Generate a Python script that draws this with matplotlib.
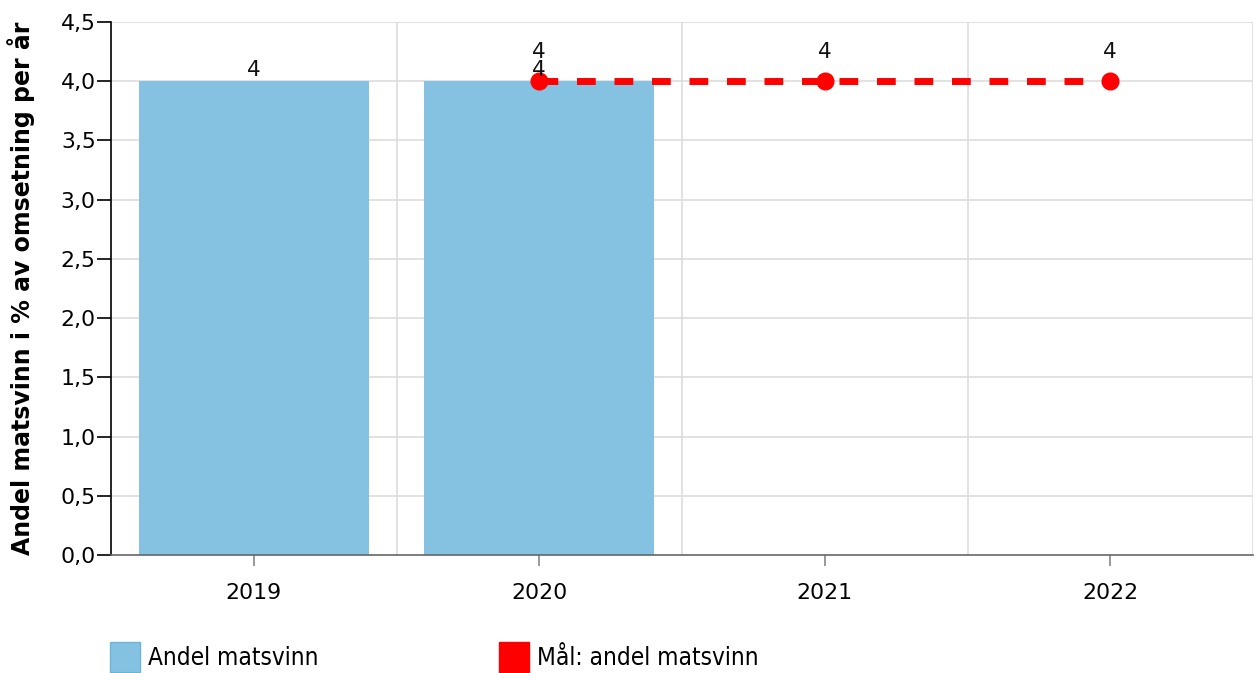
import matplotlib
matplotlib.use("Agg")
import matplotlib.pyplot as plt
from matplotlib.patches import Rectangle
import numpy as np

years = ["2019", "2020", "2021", "2022"]
andel_matsvinn = [4, 4, None, None]
maal_andel = [None, 4, 4, 4]
yticks = [0.0, 0.5, 1.0, 1.5, 2.0, 2.5, 3.0, 3.5, 4.0, 4.5]
ylabel = "Andel matsvinn i % av omsetning per år"
legend_labels = ["Andel matsvinn", "Mål: andel matsvinn"]

bar_color = "#85C2E2"
red = "#FF0000"

plt.rcParams['font.family'] = ['DejaVu Sans']
fig = plt.figure(figsize=(12.56, 6.73), dpi=100)
ax = fig.add_axes([111/1256, 1-555/673, (1253-111)/1256, (555-22)/673])

x = np.arange(len(years))
for xi, v in zip(x, andel_matsvinn):
    if v is not None:
        ax.bar(xi, v, width=0.806, color=bar_color, zorder=2)
        ax.annotate(f"{v}".replace(".", ","), (xi, v), xytext=(0, 1), textcoords="offset points",
                    ha="center", va="bottom", fontsize=15.5, color="#111111", zorder=5)

mx = [xi for xi, v in zip(x, maal_andel) if v is not None]
my = [v for v in maal_andel if v is not None]
ax.plot(mx, my, color=red, linewidth=5, linestyle=(0, (2.7, 2.7)), marker="o",
        markersize=12, zorder=4, dash_capstyle="butt")
for xi, v in zip(mx, my):
    ax.annotate(f"{v}", (xi, v), xytext=(0, 14), textcoords="offset points",
                ha="center", va="bottom", fontsize=15.5, color="#111111", zorder=5)

ax.set_xlim(-0.5, 3.5)
ax.set_ylim(0, 4.5)
ax.set_yticks(yticks)
ax.set_yticklabels([f"{t:.1f}".replace(".", ",") for t in yticks], fontsize=15.8)
ax.set_xticks(x)
ax.set_xticklabels(years, fontsize=15.8)
ax.set_xticks([0.5, 1.5, 2.5, 3.5], minor=True)

for yv in yticks[1:]:
    ax.axhline(yv, color="#DDDDDD", linewidth=1.2, zorder=1)
for xv in [0.5, 1.5, 2.5, 3.5]:
    ax.axvline(xv, color="#DDDDDD", linewidth=1.2, zorder=1)

ax.tick_params(axis="y", which="major", length=10, width=1.2, color="#000000", pad=1)
ax.tick_params(axis="x", which="major", length=8, width=1.2, color="#888888", pad=12)
ax.tick_params(axis="x", which="minor", length=0)

for s in ["top", "right"]:
    ax.spines[s].set_visible(False)
ax.spines["left"].set_color("#000000")
ax.spines["left"].set_linewidth(1.2)
ax.spines["bottom"].set_color("#666666")
ax.spines["bottom"].set_linewidth(1.2)

ax.set_ylabel(ylabel, fontsize=17, fontweight="bold")
ax.yaxis.set_label_coords(-76/1142, 0.5)

# legend
fig.add_artist(Rectangle((110/1256, 1-672/673), 30/1256, 30/673, transform=fig.transFigure,
                         facecolor=bar_color, edgecolor="#6BB3DB", linewidth=1))
fig.text(148/1256, 1-658/673, legend_labels[0], fontsize=17.5, va="center", ha="left",
         fontstretch="condensed")
fig.add_artist(Rectangle((499/1256, 1-672/673), 30/1256, 30/673, transform=fig.transFigure,
                         facecolor=red, edgecolor=red, linewidth=1))
fig.text(537/1256, 1-658/673, legend_labels[1], fontsize=17.5, va="center", ha="left",
         fontstretch="condensed")

fig.savefig("out.png", dpi=100)
